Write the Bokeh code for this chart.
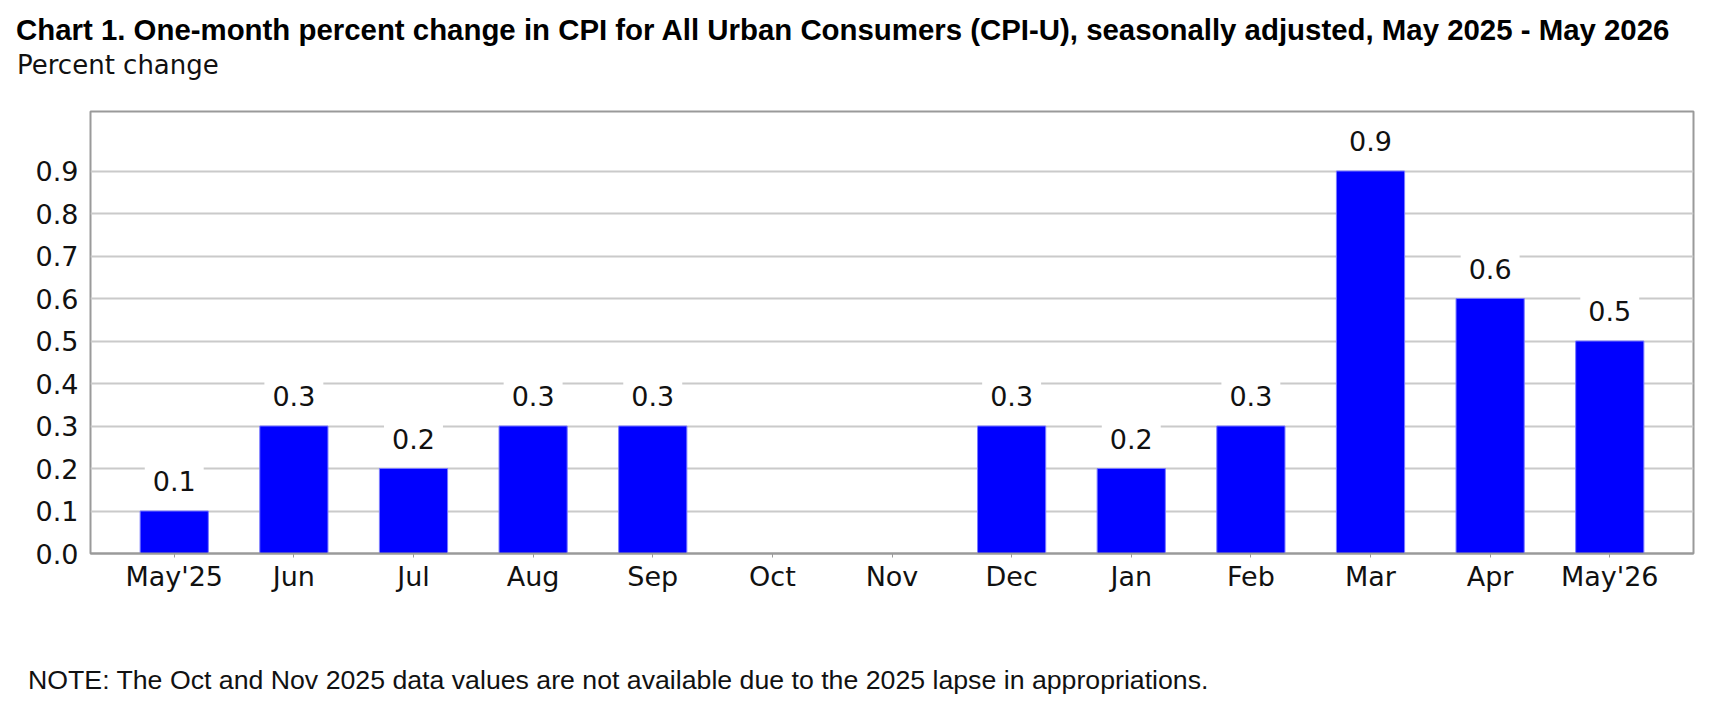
from bokeh.plotting import figure
from bokeh.layouts import column
from bokeh.models import ColumnDataSource, FactorRange, Range1d, FixedTicker, NumeralTickFormatter, Div
from bokeh.core.properties import value
from bokeh.embed import file_html
from bokeh.resources import INLINE
import math

months = ["May'25", "Jun", "Jul", "Aug", "Sep", "Oct", "Nov", "Dec", "Jan", "Feb", "Mar", "Apr", "May'26"]
values = [0.1, 0.3, 0.2, 0.3, 0.3, float("nan"), float("nan"), 0.3, 0.2, 0.3, 0.9, 0.6, 0.5]
y_ticks = [0.0, 0.1, 0.2, 0.3, 0.4, 0.5, 0.6, 0.7, 0.8, 0.9]

title_text = "Chart 1. One-month percent change in CPI for All Urban Consumers (CPI-U), seasonally adjusted, May 2025 - May 2026"
subtitle_text = "Percent change"
note_text = "NOTE: The Oct and Nov 2025 data values are not available due to the 2025 lapse in appropriations."

TICK_FONT = "DejaVu Sans"
W = 1728
TOP_H, MAIN_H, NOTE_H = 106, 544, 68


def abs_text(left, center_y, size, txt, family, weight="normal", color="#111111"):
    top = center_y - 0.59 * size
    return ('<div style="position:absolute;left:%.1fpx;top:%.1fpx;height:%.1fpx;line-height:%.1fpx;'
            'font-family:\'%s\';font-size:%.1fpx;font-weight:%s;white-space:nowrap;color:%s;margin:0;padding:0">%s</div>'
            % (left, top, size * 1.2, size * 1.2, family, size, weight, color, txt))


def text_div(h, parts):
    html = ('<div style="position:relative;width:%dpx;height:%dpx;margin:0;padding:0;overflow:visible">' % (W, h)
            + "".join(parts) + "</div>")
    return Div(text=html, width=W, height=h, margin=0)


header = text_div(TOP_H, [
    abs_text(16, 29, 29.4, title_text, "Liberation Sans", weight="bold", color="#000000"),
    abs_text(17, 65, 26, subtitle_text, TICK_FONT),
])

# main chart
src = ColumnDataSource(dict(month=months, value=values))
lab_m = [m for m, v in zip(months, values) if not math.isnan(v)]
lab_v = [v for v in values if not math.isnan(v)]
lab_src = ColumnDataSource(dict(month=lab_m, value=lab_v, text=["%.1f" % v for v in lab_v]))

p = figure(width=W, height=MAIN_H, output_backend="svg", toolbar_location=None,
           x_range=FactorRange(factors=months, range_padding=0.2, range_padding_units="absolute"),
           y_range=Range1d(0, 1.04),
           min_border_left=90, min_border_right=35, min_border_top=5, min_border_bottom=97)

p.outline_line_color = "#9a9a9a"
p.outline_line_width = 2
p.background_fill_color = "white"
p.border_fill_color = "white"

p.xgrid.grid_line_color = None
p.ygrid.grid_line_color = "#cacaca"
p.ygrid.grid_line_width = 2

p.yaxis.ticker = FixedTicker(ticks=y_ticks)
p.yaxis.formatter = NumeralTickFormatter(format="0.0")
p.yaxis.axis_line_color = None
p.yaxis.major_tick_line_color = None
p.yaxis.minor_tick_line_color = None
p.yaxis.major_tick_out = 0
p.yaxis.major_tick_in = 0
p.yaxis.major_label_standoff = 12
p.yaxis.major_label_text_font = TICK_FONT
p.yaxis.major_label_text_font_size = "27px"
p.yaxis.major_label_text_color = "#111111"

p.xaxis.axis_line_color = "#9a9a9a"
p.xaxis.axis_line_width = 2
p.xaxis.major_tick_line_color = "#9a9a9a"
p.xaxis.major_tick_out = 4
p.xaxis.major_tick_in = 0
p.xaxis.major_label_standoff = 3
p.xaxis.major_label_text_font = TICK_FONT
p.xaxis.major_label_text_font_size = "27px"
p.xaxis.major_label_text_color = "#111111"

p.vbar(x="month", top="value", bottom=0, width=0.57, source=src,
       fill_color="#0000FF", line_color="#7a7aff", line_width=1)

p.text(x="month", y="value", text="text", source=lab_src, y_offset=-30,
       text_align="center", text_baseline="middle",
       text_font=value(TICK_FONT), text_font_size="27px", text_color="#111111",
       background_fill_color="white", padding=8)

footer = text_div(NOTE_H, [
    abs_text(28, 680 - (TOP_H + MAIN_H), 26.7, note_text, "Liberation Sans"),
])

layout = column(header, p, footer, spacing=0)
open("out.html", "w").write(file_html(layout, INLINE))
